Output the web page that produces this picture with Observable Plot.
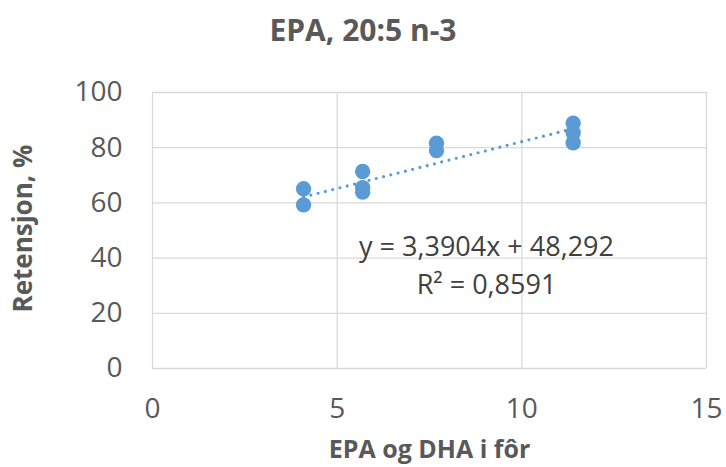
<!DOCTYPE html>
<html>
<head>
<meta charset="utf-8">
<script src="https://cdn.jsdelivr.net/npm/d3@7"></script>
<script src="https://cdn.jsdelivr.net/npm/@observablehq/plot@0.6"></script>
<style>
  html, body { margin: 0; padding: 0; background: #fff; overflow: hidden; }
  #title { width: 726px; height: 70px; box-sizing: border-box; padding-top: 12px;
           text-align: center; font: bold 30px "Open Sans", sans-serif; line-height: 36px; color: #595959; }
  svg { display: block; }
</style>
</head>
<body>
<div id="title">EPA, 20:5 n-3</div>
<div id="chart"></div>
<script>
// Data
const feedEpaDha = [4.09, 4.09, 5.69, 5.69, 5.69, 7.69, 7.69, 11.39, 11.39, 11.39];
const retention  = [65.1, 59.3, 71.4, 65.5, 63.9, 81.6, 79.0, 88.9, 85.4, 81.8];
const trendSlope = 3.3904;
const trendIntercept = 48.292;
const rSquared = 0.8591;
const xTicks = [0, 5, 10, 15];
const yTicks = [0, 20, 40, 60, 80, 100];
const xLabel = "EPA og DHA i fôr";
const yLabel = "Retensjon, %";

const points = feedEpaDha.map((x, i) => ({x, y: retention[i]}));
const [xmin, xmax] = d3.extent(feedEpaDha);
const trend = [xmin, xmax].map(x => ({x, y: trendIntercept + trendSlope * x}));
const comma = v => String(v).replace(".", ",");
const eqText = `y = ${comma(trendSlope)}x + ${comma(trendIntercept)}`;
const r2Text = `R² = ${comma(rSquared)}`;

const blue = "#5B9BD5";
const grey = "#595959";

const chart = Plot.plot({
  width: 726,
  height: 397,
  marginTop: 22,
  marginBottom: 99,
  marginLeft: 152,
  marginRight: 20,
  style: {fontFamily: "'Open Sans', sans-serif", background: "#fff", overflow: "visible"},
  x: {domain: [0, 15]},
  y: {domain: [0, 100]},
  marks: [
    Plot.gridX(xTicks, {stroke: "#D9D9D9", strokeOpacity: 1, strokeWidth: 1.3}),
    Plot.gridY(yTicks, {stroke: "#D9D9D9", strokeOpacity: 1, strokeWidth: 1.3}),
    Plot.axisX({ticks: xTicks, tickSize: 0, tickPadding: 30, fontSize: 28, color: grey, label: null}),
    Plot.axisY({ticks: yTicks, tickSize: 0, tickPadding: 30, fontSize: 28, color: grey, label: null}),
    Plot.line(trend, {x: "x", y: "y", stroke: blue, strokeWidth: 3.2, strokeDasharray: "0 7.5", strokeLinecap: "round"}),
    Plot.dot(points, {x: "x", y: "y", r: 7.7, fill: blue}),
    Plot.text([eqText], {frameAnchor: "top-left", dx: 334, dy: 144, fontSize: 27, fill: "#404040", textAnchor: "middle"}),
    Plot.text([r2Text], {frameAnchor: "top-left", dx: 334, dy: 182, fontSize: 27, fill: "#404040", textAnchor: "middle"}),
    Plot.text([xLabel], {frameAnchor: "bottom", dy: 89, fontSize: 25, fontWeight: "bold", fill: grey}),
    Plot.text([yLabel], {frameAnchor: "left", dx: -129, dy: 82, rotate: -90, fontSize: 26, fontWeight: "bold", fill: grey})
  ]
});
document.getElementById("chart").appendChild(chart);
</script>
</body>
</html>
